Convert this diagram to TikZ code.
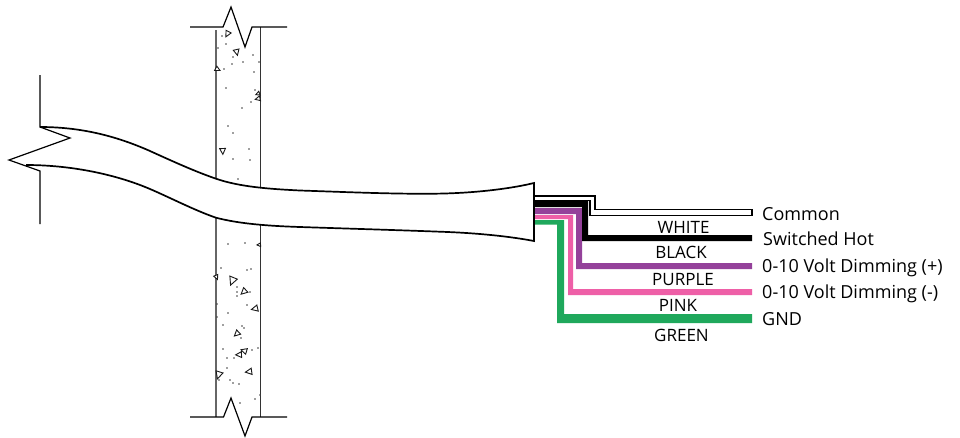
\documentclass[tikz,border=0pt]{standalone}
\usepackage{fontspec}
\setmainfont{Open Sans}
\definecolor{wpurple}{HTML}{94419A}
\definecolor{wpink}{HTML}{EE5FA7}
\definecolor{wgreen}{HTML}{1FA85C}
\tikzset{
  lab/.style={inner sep=0pt,anchor=base west,font=\fontsize{18}{20}\selectfont},
  wlab/.style={inner sep=0pt,anchor=base,font=\fontsize{17}{20}\selectfont},
  outl/.style={draw=black,line width=1.3pt,line join=miter},
  brk/.style={draw=black,line width=1.2pt,line join=miter},
  cablel/.style={draw=black,line width=1.7pt},
  wallg/.style={draw=black!60,line width=1.6pt},
  wallr/.style={draw=black!80,line width=1.2pt},
  tri/.style={draw=black!90,line width=0.9pt,fill=white},
  dot/.style={fill=black!75,draw=none}
}
\newcommand{\tria}[4]{\draw[tri,shift={(#1,#2)},rotate=#3,scale=#4] (-4,-4) -- (4,-3) -- (-1,4.5) -- cycle;}
\begin{document}
\begin{tikzpicture}[x=1pt,y=-1pt]
\useasboundingbox[fill=white] (0,0) rectangle (960,437);
% wall
\draw[wallg] (216,30) -- (216,180);
\draw[wallr] (260.5,27) -- (260.5,188);
\draw[wallg] (216,217) -- (216,417);
\draw[wallr] (260.5,225) -- (260.5,417);
\draw[brk] (190,27) -- (223,27) -- (231,7) -- (245,47) -- (252,27) -- (287,27);
\draw[brk] (190,417) -- (223.5,417) -- (231,398) -- (245,436) -- (252,417) -- (287,417);
% aggregate
\foreach \x/\y/\r/\s in {227.7/34/-20/0.72,237/52/20/0.72,217.7/69/70/0.6,258/94/-60/0.5,258/99/-70/0.6,223/151/10/0.72,
  232.7/281/-15/1,244/292/-40/0.78,255/309/-70/0.78,216.7/277/30/0.55,237/334/-40/0.72,244/351/-100/0.72,239/355/-80/0.72,219/375/-10/0.9,249/372/-75/0.78,259/245/-80/0.45}
  {\tria{\x}{\y}{\r}{\s}}
\foreach \x/\y in {222/36,226/44,218/48,233/57,232/64,243/62,253/55,259/62,254/72,224/69,226/88,255/90,251/102,242/108,228/126,233/133,249/149,233/159,250/160,238/179,
  228/244,245/243,221/268,247/270,251/269,237/287,237/292,237/296,250/292,247/305,217/304,228/313,217/317,223/325,242/326,244/328,241/338,223/349,258/348,252/350,227/358,234/358,227/368,230/380,233/383,239/384,260/395,255/399,240/403,219/380}
  {\fill[dot] (\x,\y) circle (0.8);}
% cable
\path[fill=white,cablel] (40,127) .. controls (80,127) and (115,135.5) .. (150,151)
  .. controls (172,161) and (195,171.5) .. (216,178.7)
  .. controls (240,187) and (270,189) .. (300,190.5)
  .. controls (345,192) and (390,194) .. (430,193.7)
  .. controls (465,193.7) and (505,190) .. (534,183)
  -- (534,241) .. controls (505,235.5) and (470,232.7) .. (440,231.7)
  .. controls (395,230) and (345,228.5) .. (300,227)
  .. controls (270,226) and (240,224) .. (216,217.7)
  .. controls (195,210.5) and (172,198.5) .. (150,189)
  .. controls (115,174) and (70,165) .. (26,165);
% cable break
\draw[brk] (40,75) -- (40,127) -- (70,138) -- (9,160) -- (40,171) -- (40,224);
% wires
\fill[wgreen] (535,220) -- (564,220) -- (564,314) -- (752,314) -- (752,323) -- (557,323) -- (557,224.5) -- (535,224.5) -- cycle;
\fill[wpink] (535,215) -- (573,215) -- (573,289) -- (752,289) -- (752,295) -- (568,295) -- (568,219) -- (535,219) -- cycle;
\fill[wpurple] (535,208) -- (582,208) -- (582,263) -- (752,263) -- (752,269) -- (576,269) -- (576,214) -- (535,214) -- cycle;
\fill[black] (535,201) -- (588,201) -- (588,235) -- (752,235) -- (752,241) -- (582,241) -- (582,207) -- (535,207) -- cycle;
\draw[outl,fill=white] (535,196) -- (595,196) -- (595,209.5) -- (752,209.5) -- (752,215.5) -- (590,215.5) -- (590,200.5) -- (535,200.5);
% labels
\node[wlab] (white) at (683.5,233) {WHITE};
\node[wlab] (blacklab) at (681,258) {BLACK};
\node[wlab] (purple) at (683,285.7) {PURPLE};
\node[wlab] (pink) at (678,311.7) {PINK};
\node[wlab] (green) at (681.5,341.7) {GREEN};
\node[lab] (common) at (762,220) {Common};
\node[lab] (hot) at (763,245) {Switched Hot};
\node[lab] (dimp) at (762,272) {0-10 Volt Dimming (+)};
\node[lab] (dimm) at (762,298) {0-10 Volt Dimming (-)};
\node[lab] (gnd) at (762,325.6) {GND};
\end{tikzpicture}
\end{document}
